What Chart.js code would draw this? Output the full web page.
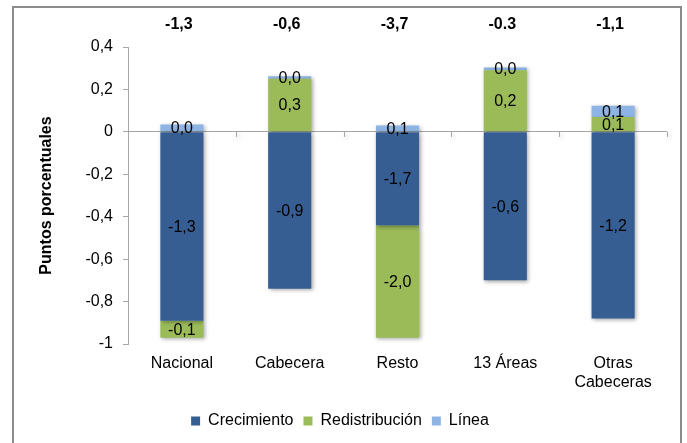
<!DOCTYPE html>
<html><head><meta charset="utf-8">
<script src="https://cdn.jsdelivr.net/npm/chart.js@4.4.1/dist/chart.umd.min.js"></script>
<style>
html,body{margin:0;padding:0;background:#fff;}
#wrap{position:relative;width:687px;height:443px;overflow:hidden;}
#frame{position:absolute;left:12px;top:6px;width:670px;height:470px;border:2px solid #8c8c8c;box-sizing:border-box;}
canvas{position:absolute;left:0;top:0;}
</style></head><body>
<div id="wrap"><div id="frame"></div><canvas id="c" width="687" height="443"></canvas></div>
<script>
// ---- data ----
const categories = ['Nacional', 'Cabecera', 'Resto', '13 Áreas', ['Otras', 'Cabeceras']];
const seriesNames = ['Crecimiento', 'Redistribución', 'Línea'];
const crecimiento = [-0.89, -0.74, -0.44, -0.70, -0.88];
const redistribucion = [-0.08, 0.25, -0.53, 0.29, 0.07];
const linea = [0.035, 0.012, 0.03, 0.013, 0.053];
const crecimientoLabels = ['-1,3', '-0,9', '-1,7', '-0,6', '-1,2'];
const redistribucionLabels = ['-0,1', '0,3', '-2,0', '0,2', '0,1'];
const lineaLabels = ['0,0', '0,0', '0,1', '0,0', '0,1'];
const totalLabels = ['-1,3', '-0,6', '-3,7', '-0.3', '-1,1'];
const yTicks = [0.4, 0.2, 0, -0.2, -0.4, -0.6, -0.8, -1];
const yTitle = 'Puntos porcentuales';

const colors = ['#375e92', '#9bbb59', '#8db4e2'];
const FONT = '"Liberation Sans", Arial, sans-serif';
const segLabels = [crecimientoLabels, redistribucionLabels, lineaLabels];

const shadowPlugin = {
  id: 'shadow',
  beforeDatasetsDraw(chart) {
    const ctx = chart.ctx;
    ctx.save();
    ctx.shadowColor = 'rgba(0,0,0,0.35)';
    ctx.shadowBlur = 4;
    ctx.shadowOffsetX = 1.5;
    ctx.shadowOffsetY = 1.5;
  },
  afterDatasetsDraw(chart) {
    chart.ctx.restore();
  }
};

const decoPlugin = {
  id: 'deco',
  beforeDatasetsDraw(chart) {
    // category tick marks hanging from the zero line
    const ctx = chart.ctx, x = chart.scales.x, y = chart.scales.y;
    const y0 = y.getPixelForValue(0);
    ctx.save();
    ctx.strokeStyle = '#a6a6a6';
    ctx.lineWidth = 1;
    for (let i = 0; i < categories.length; i++) {
      const xr = i < categories.length - 1 ? (x.getPixelForValue(i) + x.getPixelForValue(i + 1)) / 2 : chart.chartArea.right;
      ctx.beginPath();
      ctx.moveTo(Math.round(xr) + 0.5, y0);
      ctx.lineTo(Math.round(xr) + 0.5, y0 + 5);
      ctx.stroke();
    }
    ctx.restore();
  },
  afterDraw(chart) {
    const ctx = chart.ctx, x = chart.scales.x;
    ctx.save();
    ctx.fillStyle = '#000';
    ctx.textAlign = 'center';
    ctx.textBaseline = 'middle';
    // segment labels
    ctx.font = '16px ' + FONT;
    chart.data.datasets.forEach((ds, di) => {
      const meta = chart.getDatasetMeta(di);
      meta.data.forEach((el, i) => {
        const cy = (el.y + el.base) / 2;
        ctx.fillText(segLabels[di][i], el.x, cy + 1);
      });
    });
    // totals on top
    ctx.font = 'bold 16px ' + FONT;
    totalLabels.forEach((t, i) => {
      ctx.fillText(t, x.getPixelForValue(i) - 3, 25);
    });
    ctx.restore();
  }
};

new Chart(document.getElementById('c'), {
  type: 'bar',
  data: {
    labels: categories,
    datasets: [
      { label: seriesNames[0], data: crecimiento, backgroundColor: colors[0] },
      { label: seriesNames[1], data: redistribucion, backgroundColor: colors[1] },
      { label: seriesNames[2], data: linea, backgroundColor: colors[2] }
    ]
  },
  options: {
    responsive: false,
    animation: false,
    devicePixelRatio: 1,
    layout: { padding: { left: 13, right: 20, top: 47, bottom: 4 } },
    datasets: { bar: { barPercentage: 0.4, categoryPercentage: 1.0, borderWidth: 0 } },
    plugins: {
      tooltip: { enabled: false },
      legend: {
        position: 'bottom',
        labels: {
          boxWidth: 9, boxHeight: 9, padding: 10,
          color: '#000',
          font: { family: FONT, size: 16 }
        }
      }
    },
    scales: {
      x: {
        stacked: true,
        grid: { display: false, drawTicks: false },
        border: { display: false },
        ticks: { color: '#000', padding: 10, font: { family: FONT, size: 16 }, maxRotation: 0, autoSkip: false },
        afterFit(scale) { scale.height = 59; }
      },
      y: {
        stacked: true,
        min: -1, max: 0.4,
        afterBuildTicks(scale) { scale.ticks = yTicks.map(v => ({ value: v })); },
        grid: {
          color: c => (c.tick && c.tick.value === 0) ? '#a6a6a6' : 'rgba(0,0,0,0)',
          tickColor: '#a6a6a6',
          tickLength: 5,
          lineWidth: 1
        },
        border: { display: true, color: '#a6a6a6', width: 1 },
        ticks: {
          color: '#000', padding: 10,
          font: { family: FONT, size: 16 },
          callback: v => v === 0 ? '0' : String(Math.round(v * 10) / 10).replace('.', ',')
        },
        title: {
          display: true, text: yTitle, color: '#000',
          font: { family: FONT, size: 16, weight: 'bold' },
          padding: { top: 24, bottom: 0 }
        },
        afterFit(scale) { scale.width = 115; }
      }
    }
  },
  plugins: [shadowPlugin, decoPlugin]
});
</script>
</body></html>
